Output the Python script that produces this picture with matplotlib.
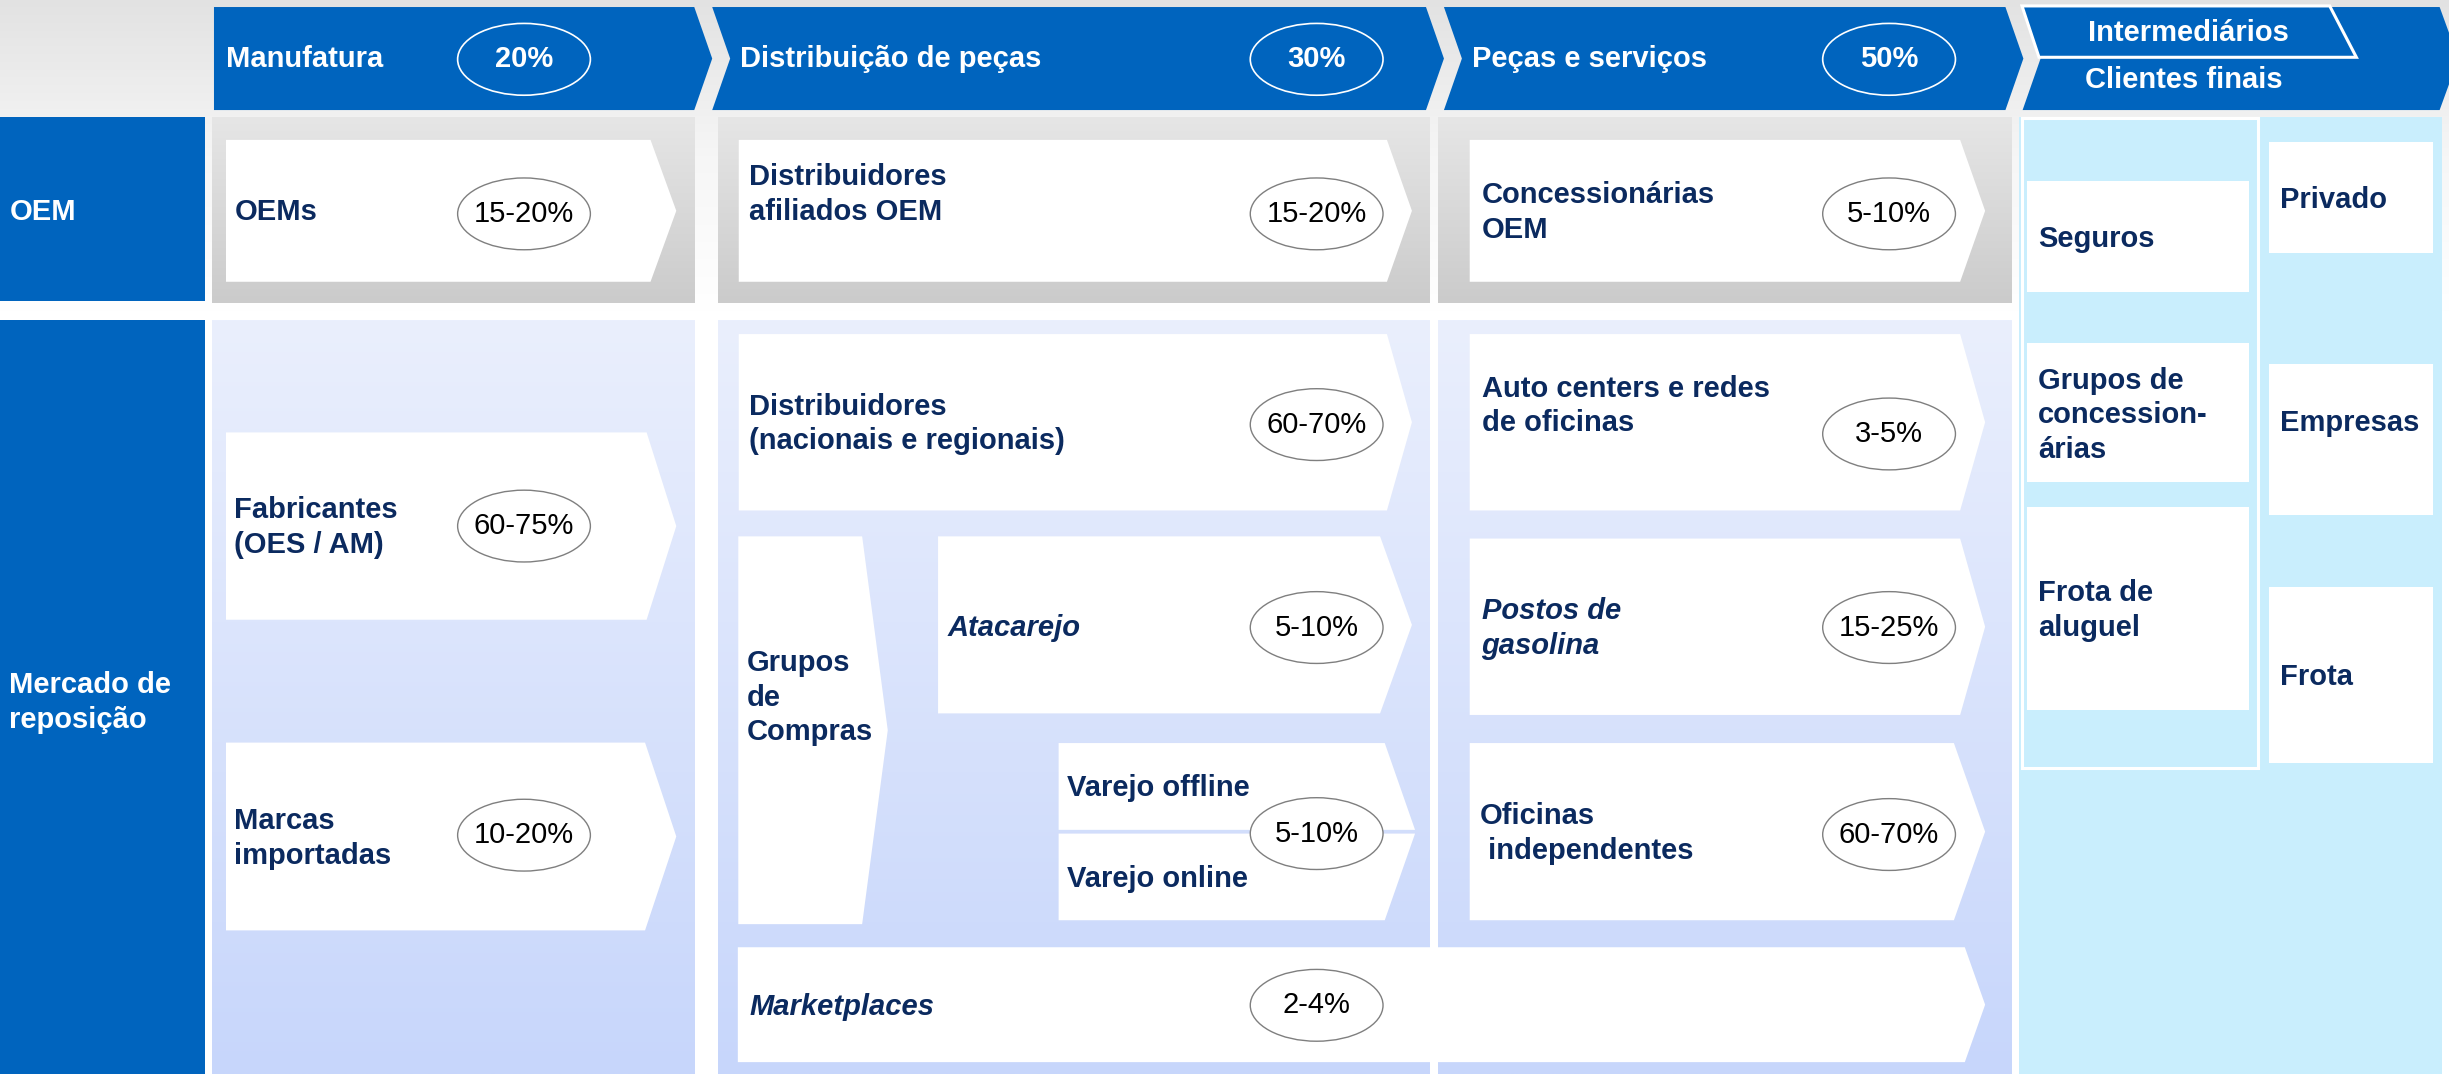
import matplotlib.pyplot as plt
import numpy as np
from matplotlib.patches import Polygon, Rectangle, Ellipse
from matplotlib.colors import LinearSegmentedColormap

plt.rcParams['font.family'] = ['Liberation Sans', 'DejaVu Sans']

# ---- content ----
stages = ["Manufatura", "Distribuição de peças", "Peças e serviços"]
stage_shares = ["20%", "30%", "50%"]
end_headers = ["Intermediários", "Clientes finais"]
row_labels = ["OEM", "Mercado de\nreposição"]

oem_players = ["OEMs", "Distribuidores\nafiliados OEM", "Concessionárias\nOEM"]
oem_shares = ["15-20%", "15-20%", "5-10%"]

manuf_players = ["Fabricantes\n(OES / AM)", "Marcas\nimportadas"]
manuf_shares = ["60-75%", "10-20%"]

dist_players = ["Distribuidores\n(nacionais e regionais)", "Atacarejo", "Varejo offline", "Varejo online", "Marketplaces"]
dist_shares = ["60-70%", "5-10%", "5-10%", "2-4%"]
group_label = "Grupos\nde\nCompras"

serv_players = ["Auto centers e redes\nde oficinas", "Postos de\ngasolina", "Oficinas\n independentes"]
serv_shares = ["3-5%", "15-25%", "60-70%"]

intermediaries = ["Seguros", "Grupos de\nconcession-\nárias", "Frota de\naluguel"]
end_clients = ["Privado", "Empresas", "Frota"]

BLUE = '#0064be'
NAVY = '#0b2a5f'
FS = 21

fig = plt.figure(figsize=(24.49, 10.74), dpi=100)
ax = fig.add_axes([0, 0, 1, 1])
ax.axis('off')


def grad(x0, y0, x1, y1, colors, z=1):
    cm = LinearSegmentedColormap.from_list('g', colors)
    arr = np.linspace(0, 1, 256)[:, None]
    ax.imshow(arr, cmap=cm, extent=(x0, x1, y1, y0), aspect='auto', zorder=z)


def chevron(x0, y0, x1, y1, tip, color='white', z=3, notch=0):
    ym = (y0 + y1) / 2
    pts = [(x0, y0), (x1, y0), (tip, ym), (x1, y1), (x0, y1)]
    if notch:
        pts.append((x0 + notch, ym))
    ax.add_patch(Polygon(pts, closed=True, fc=color, ec='none', zorder=z))


def share(x, y, txt, header=False):
    if header:
        ax.add_patch(Ellipse((x, y), 85, 46, fc='none', ec='white', lw=1.2, zorder=5))
        ax.text(x, y, txt, color='white', fontsize=FS, fontweight='bold', ha='center', va='center', zorder=6)
    else:
        ax.add_patch(Ellipse((x, y), 85, 46, fc='white', ec='#7f7f7f', lw=1.0, zorder=5))
        ax.text(x, y, txt, color='black', fontsize=FS, ha='center', va='center', zorder=6)


def label(x, y, txt, italic=False, color=NAVY):
    ax.text(x, y, txt, color=color, fontsize=FS, fontweight='bold', ha='left', va='center',
            style='italic' if italic else 'normal', linespacing=1.3, zorder=6)


# background
grad(0, 0, 1568, 200, ['#e2e2e2', '#f6f6f6', '#ffffff'], z=0)
ax.add_patch(Rectangle((0, 200), 1568, 488, fc='white', ec='none', zorder=0))

# header chevrons
hy0, hy1, d = 4.5, 70.5, 11.5
chevron(137, hy0, 444.5, hy1, 456, BLUE, z=2)
chevron(456, hy0, 913, hy1, 924.5, BLUE, z=2, notch=d)
chevron(924.5, hy0, 1284, hy1, 1295.5, BLUE, z=2, notch=d)
chevron(1295, hy0, 1562, hy1, 1574, BLUE, z=2, notch=d)
ax.add_patch(Polygon([(1294.6, 3.8), (1491.6, 3.8), (1508.7, 36.7), (1305.5, 36.7)],
                     closed=True, fc=BLUE, ec='white', lw=2.2, zorder=3))

hx = [145, 474, 942.5]
hs = [335.5, 843, 1209.5]
for i in range(3):
    label(hx[i], 37.5, stages[i], color='white')
    share(hs[i], 38, stage_shares[i], header=True)
ax.text(1401, 21, end_headers[0], color='white', fontsize=FS, fontweight='bold', ha='center', va='center', zorder=6)
ax.text(1398, 51, end_headers[1], color='white', fontsize=FS, fontweight='bold', ha='center', va='center', zorder=6)

# row labels
ax.add_patch(Rectangle((0, 75), 131, 118, fc=BLUE, ec='none', zorder=2))
ax.add_patch(Rectangle((0, 205), 131, 483, fc=BLUE, ec='none', zorder=2))
label(6, 136, row_labels[0], color='white')
label(6, 450, row_labels[1], color='white')

# panels
px = [(136, 445), (460, 915.7), (921, 1288)]
for x0, x1 in px:
    grad(x0, 75, x1, 194, ['#e6e6e6', '#cbcbcb'], z=1)
    grad(x0, 205, x1, 688, ['#eaeffd', '#c7d6fb'], z=1)

# OEM row
chevron(144.7, 89.6, 416.5, 180.5, 433)
chevron(473, 89.6, 888, 180.5, 904)
chevron(941, 89.6, 1255, 180.5, 1271)
label(150, 136, oem_players[0])
label(479.5, 124.5, oem_players[1])
label(948.6, 136, oem_players[2])
for x, s in zip(hs, oem_shares):
    share(x, 137, s)

# manufacturing - aftermarket
chevron(144.7, 277, 414, 397, 433)
chevron(144.7, 475.7, 413, 596, 433)
label(150, 338, manuf_players[0])
label(150, 537, manuf_players[1])
share(335.5, 337, manuf_shares[0])
share(335.5, 535, manuf_shares[1])

# distribution - aftermarket
chevron(473, 214, 888, 327, 904)
label(479.5, 271.5, dist_players[0])
share(843, 272, dist_shares[0])

chevron(472.7, 343.6, 552, 592, 568.4)
label(478, 447, group_label)

chevron(600.6, 343.6, 883.6, 457, 904)
label(607, 402, dist_players[1], italic=True)
share(843, 402, dist_shares[1])

ax.add_patch(Polygon([(677.8, 476), (886.6, 476), (906, 531.6), (677.8, 531.6)], closed=True, fc='white', ec='none', zorder=3))
ax.add_patch(Polygon([(677.8, 534), (906, 534), (886.6, 589.5), (677.8, 589.5)], closed=True, fc='white', ec='none', zorder=3))
label(683, 504.6, dist_players[2])
label(683, 563, dist_players[3])
share(843, 534, dist_shares[2])

chevron(472.4, 606.8, 1258, 680.4, 1271)
label(480, 645, dist_players[4], italic=True)
share(843, 644, dist_shares[3])

# parts & services - aftermarket
chevron(941, 214, 1255, 327, 1271)
chevron(941, 345, 1255, 458, 1271)
chevron(941, 476, 1251, 589.5, 1271)
label(948.6, 260, serv_players[0])
label(948.6, 402.5, serv_players[1], italic=True)
label(947.6, 534, serv_players[2])
for y, s in zip([278, 402, 534.6], serv_shares):
    share(1209.5, y, s)

# end clients area
ax.add_patch(Rectangle((1293, 75), 270.5, 613, fc='#c9eefd', ec='none', zorder=1))
ax.add_patch(Rectangle((1294.6, 75.7), 151, 416.5, fc='none', ec='white', lw=2.2, zorder=2))
for (y0, y1), t, ty in zip([(116, 187), (220, 309), (325, 455)], intermediaries, [153, 266, 391]):
    ax.add_patch(Rectangle((1298, y0), 142, y1 - y0, fc='white', ec='none', zorder=3))
    label(1305, ty, t)
for (y0, y1), t, ty in zip([(91, 162), (233, 330), (376, 489)], end_clients, [128, 271, 434]):
    ax.add_patch(Rectangle((1453, y0), 105, y1 - y0, fc='white', ec='none', zorder=3))
    label(1460, ty, t)

ax.set_xlim(0, 1568)
ax.set_ylim(688, 0)
fig.savefig('out.png', dpi=100)
